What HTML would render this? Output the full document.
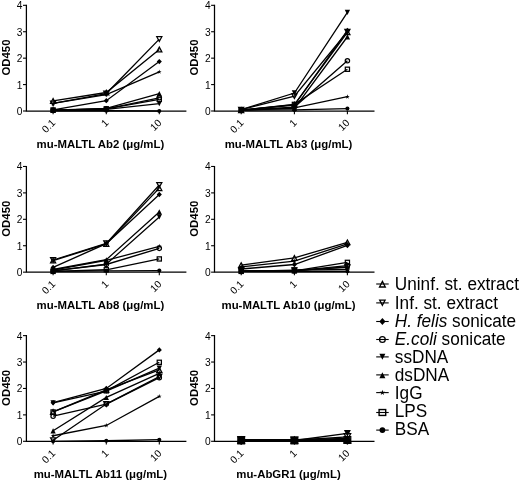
<!DOCTYPE html>
<html><head><meta charset="utf-8"><title>ELISA binding curves</title>
<style>html,body{margin:0;padding:0;background:#fff;}body{width:520px;height:483px;overflow:hidden;font-family:"Liberation Sans", sans-serif;}svg{display:block;}text{font-family:"Liberation Sans", sans-serif;fill:#000;}.tk{font-size:10.2px;}.ttl{font-size:11.4px;font-weight:bold;}.lg{font-size:17.2px;}</style></head><body>
<svg width="520" height="483" viewBox="0 0 520 483">
<defs><filter id="soft" x="0" y="0" width="520" height="483" filterUnits="userSpaceOnUse"><feGaussianBlur stdDeviation="0.3"/></filter></defs>
<rect width="520" height="483" fill="#fff"/>
<g filter="url(#soft)">
<g>
<path d="M26.4 4.82 V111 H186.4" fill="none" stroke="#000" stroke-width="1.25"/>
<path d="M23 111 H26.4" stroke="#000" stroke-width="1.1"/>
<text class="tk" x="22.5" y="115" text-anchor="end">0</text>
<path d="M23 84.58 H26.4" stroke="#000" stroke-width="1.1"/>
<text class="tk" x="22.5" y="88.58" text-anchor="end">1</text>
<path d="M23 58.16 H26.4" stroke="#000" stroke-width="1.1"/>
<text class="tk" x="22.5" y="62.16" text-anchor="end">2</text>
<path d="M23 31.74 H26.4" stroke="#000" stroke-width="1.1"/>
<text class="tk" x="22.5" y="35.74" text-anchor="end">3</text>
<path d="M23 5.32 H26.4" stroke="#000" stroke-width="1.1"/>
<text class="tk" x="22.5" y="9.32" text-anchor="end">4</text>
<path d="M53.1 111 V114.2" stroke="#000" stroke-width="1.1"/>
<text class="tk" x="56.1" y="123.6" text-anchor="end" transform="rotate(-45 56.1 123.6)">0.1</text>
<path d="M106.3 111 V114.2" stroke="#000" stroke-width="1.1"/>
<text class="tk" x="109.3" y="123.6" text-anchor="end" transform="rotate(-45 109.3 123.6)">1</text>
<path d="M159.3 111 V114.2" stroke="#000" stroke-width="1.1"/>
<text class="tk" x="162.3" y="123.6" text-anchor="end" transform="rotate(-45 162.3 123.6)">10</text>
<text class="ttl" x="10.2" y="57.56" text-anchor="middle" transform="rotate(-90 10.2 57.56)">OD450</text>
<text class="ttl" x="100.4" y="148" text-anchor="middle">mu-MALTL Ab2 (μg/mL)</text>
<polyline points="53.1,100.83 106.3,92.51 159.3,49.44" fill="none" stroke="#000" stroke-width="1.3"/>
<polygon points="53.1,98.53 55.65,103.25 50.55,103.25" fill="none" stroke="#000" stroke-width="1.25"/>
<polygon points="106.3,90.21 108.85,94.93 103.75,94.93" fill="none" stroke="#000" stroke-width="1.25"/>
<polygon points="159.3,47.15 161.85,51.86 156.75,51.86" fill="none" stroke="#000" stroke-width="1.25"/>
<polyline points="53.1,103.47 106.3,93.56 159.3,39.14" fill="none" stroke="#000" stroke-width="1.3"/>
<polygon points="53.1,105.77 55.65,101.05 50.55,101.05" fill="none" stroke="#000" stroke-width="1.25"/>
<polygon points="106.3,95.86 108.85,91.14 103.75,91.14" fill="none" stroke="#000" stroke-width="1.25"/>
<polygon points="159.3,41.43 161.85,36.72 156.75,36.72" fill="none" stroke="#000" stroke-width="1.25"/>
<polyline points="53.1,109.94 106.3,100.7 159.3,61.59" fill="none" stroke="#000" stroke-width="1.3"/>
<polygon points="53.1,107.27 55.65,109.94 53.1,112.62 50.55,109.94" fill="#000"/>
<polygon points="106.3,98.02 108.85,100.7 106.3,103.37 103.75,100.7" fill="#000"/>
<polygon points="159.3,58.92 161.85,61.59 159.3,64.27 156.75,61.59" fill="#000"/>
<polyline points="53.1,110.21 106.3,108.89 159.3,97.79" fill="none" stroke="#000" stroke-width="1.3"/>
<circle cx="53.1" cy="110.21" r="2.17" fill="none" stroke="#000" stroke-width="1.25"/>
<circle cx="106.3" cy="108.89" r="2.17" fill="none" stroke="#000" stroke-width="1.25"/>
<circle cx="159.3" cy="97.79" r="2.17" fill="none" stroke="#000" stroke-width="1.25"/>
<polyline points="53.1,110.21 106.3,109.41 159.3,103.6" fill="none" stroke="#000" stroke-width="1.3"/>
<polygon points="53.1,112.75 55.78,107.53 50.42,107.53" fill="#000"/>
<polygon points="106.3,111.96 108.98,106.74 103.62,106.74" fill="#000"/>
<polygon points="159.3,106.15 161.98,100.92 156.62,100.92" fill="#000"/>
<polyline points="53.1,110.21 106.3,108.36 159.3,93.56" fill="none" stroke="#000" stroke-width="1.3"/>
<polygon points="53.1,107.66 55.78,112.88 50.42,112.88" fill="#000"/>
<polygon points="106.3,105.81 108.98,111.04 103.62,111.04" fill="#000"/>
<polygon points="159.3,91.02 161.98,96.24 156.62,96.24" fill="#000"/>
<polyline points="53.1,103.47 106.3,94.62 159.3,71.9" fill="none" stroke="#000" stroke-width="1.3"/>
<polygon points="53.1,101.05 53.64,102.73 55.4,102.72 53.98,103.75 54.52,105.43 53.1,104.39 51.68,105.43 52.22,103.75 50.8,102.72 52.56,102.73" fill="#000"/>
<polygon points="106.3,92.2 106.84,93.87 108.6,93.87 107.18,94.9 107.72,96.58 106.3,95.54 104.88,96.58 105.42,94.9 104,93.87 105.76,93.87" fill="#000"/>
<polygon points="159.3,69.48 159.84,71.15 161.6,71.15 160.18,72.18 160.72,73.86 159.3,72.82 157.88,73.86 158.42,72.18 157,71.15 158.76,71.15" fill="#000"/>
<polyline points="53.1,110.21 106.3,108.89 159.3,99.38" fill="none" stroke="#000" stroke-width="1.3"/>
<rect x="51.01" y="108.12" width="4.18" height="4.18" fill="none" stroke="#000" stroke-width="1.25"/>
<rect x="104.21" y="106.8" width="4.18" height="4.18" fill="none" stroke="#000" stroke-width="1.25"/>
<rect x="157.21" y="97.28" width="4.18" height="4.18" fill="none" stroke="#000" stroke-width="1.25"/>
<polyline points="53.1,110.74 106.3,110.74 159.3,111" fill="none" stroke="#000" stroke-width="1.3"/>
<circle cx="53.1" cy="110.74" r="2.04" fill="#000"/>
<circle cx="106.3" cy="110.74" r="2.04" fill="#000"/>
<circle cx="159.3" cy="111" r="2.04" fill="#000"/>
</g>
<g>
<path d="M214.5 4.82 V111 H374.5" fill="none" stroke="#000" stroke-width="1.25"/>
<path d="M211.1 111 H214.5" stroke="#000" stroke-width="1.1"/>
<text class="tk" x="210.6" y="115" text-anchor="end">0</text>
<path d="M211.1 84.58 H214.5" stroke="#000" stroke-width="1.1"/>
<text class="tk" x="210.6" y="88.58" text-anchor="end">1</text>
<path d="M211.1 58.16 H214.5" stroke="#000" stroke-width="1.1"/>
<text class="tk" x="210.6" y="62.16" text-anchor="end">2</text>
<path d="M211.1 31.74 H214.5" stroke="#000" stroke-width="1.1"/>
<text class="tk" x="210.6" y="35.74" text-anchor="end">3</text>
<path d="M211.1 5.32 H214.5" stroke="#000" stroke-width="1.1"/>
<text class="tk" x="210.6" y="9.32" text-anchor="end">4</text>
<path d="M241.2 111 V114.2" stroke="#000" stroke-width="1.1"/>
<text class="tk" x="244.2" y="123.6" text-anchor="end" transform="rotate(-45 244.2 123.6)">0.1</text>
<path d="M294.4 111 V114.2" stroke="#000" stroke-width="1.1"/>
<text class="tk" x="297.4" y="123.6" text-anchor="end" transform="rotate(-45 297.4 123.6)">1</text>
<path d="M347.4 111 V114.2" stroke="#000" stroke-width="1.1"/>
<text class="tk" x="350.4" y="123.6" text-anchor="end" transform="rotate(-45 350.4 123.6)">10</text>
<text class="ttl" x="198.3" y="57.56" text-anchor="middle" transform="rotate(-90 198.3 57.56)">OD450</text>
<text class="ttl" x="288.5" y="148" text-anchor="middle">mu-MALTL Ab3 (μg/mL)</text>
<polyline points="241.2,110.21 294.4,104.66 347.4,32.27" fill="none" stroke="#000" stroke-width="1.3"/>
<polygon points="241.2,107.91 243.75,112.63 238.65,112.63" fill="none" stroke="#000" stroke-width="1.25"/>
<polygon points="294.4,102.36 296.95,107.08 291.85,107.08" fill="none" stroke="#000" stroke-width="1.25"/>
<polygon points="347.4,29.97 349.95,34.69 344.85,34.69" fill="none" stroke="#000" stroke-width="1.25"/>
<polyline points="241.2,109.68 294.4,96.2 347.4,31.74" fill="none" stroke="#000" stroke-width="1.3"/>
<polygon points="241.2,111.97 243.75,107.26 238.65,107.26" fill="none" stroke="#000" stroke-width="1.25"/>
<polygon points="294.4,98.5 296.95,93.78 291.85,93.78" fill="none" stroke="#000" stroke-width="1.25"/>
<polygon points="347.4,34.03 349.95,29.32 344.85,29.32" fill="none" stroke="#000" stroke-width="1.25"/>
<polyline points="241.2,110.21 294.4,105.19 347.4,30.42" fill="none" stroke="#000" stroke-width="1.3"/>
<polygon points="241.2,107.53 243.75,110.21 241.2,112.88 238.65,110.21" fill="#000"/>
<polygon points="294.4,102.51 296.95,105.19 294.4,107.87 291.85,105.19" fill="#000"/>
<polygon points="347.4,27.74 349.95,30.42 347.4,33.1 344.85,30.42" fill="#000"/>
<polyline points="241.2,110.21 294.4,107.04 347.4,60.8" fill="none" stroke="#000" stroke-width="1.3"/>
<circle cx="241.2" cy="110.21" r="2.17" fill="none" stroke="#000" stroke-width="1.25"/>
<circle cx="294.4" cy="107.04" r="2.17" fill="none" stroke="#000" stroke-width="1.25"/>
<circle cx="347.4" cy="60.8" r="2.17" fill="none" stroke="#000" stroke-width="1.25"/>
<polyline points="241.2,109.68 294.4,93.03 347.4,12.45" fill="none" stroke="#000" stroke-width="1.3"/>
<polygon points="241.2,112.22 243.88,107 238.52,107" fill="#000"/>
<polygon points="294.4,95.58 297.08,90.36 291.72,90.36" fill="#000"/>
<polygon points="347.4,15 350.08,9.78 344.72,9.78" fill="#000"/>
<polyline points="241.2,110.21 294.4,108.36 347.4,36.76" fill="none" stroke="#000" stroke-width="1.3"/>
<polygon points="241.2,107.66 243.88,112.88 238.52,112.88" fill="#000"/>
<polygon points="294.4,105.81 297.08,111.04 291.72,111.04" fill="#000"/>
<polygon points="347.4,34.22 350.08,39.44 344.72,39.44" fill="#000"/>
<polyline points="241.2,110.21 294.4,107.83 347.4,96.73" fill="none" stroke="#000" stroke-width="1.3"/>
<polygon points="241.2,107.78 241.74,109.46 243.5,109.46 242.08,110.49 242.62,112.17 241.2,111.13 239.78,112.17 240.32,110.49 238.9,109.46 240.66,109.46" fill="#000"/>
<polygon points="294.4,105.41 294.94,107.08 296.7,107.08 295.28,108.11 295.82,109.79 294.4,108.75 292.98,109.79 293.52,108.11 292.1,107.08 293.86,107.08" fill="#000"/>
<polygon points="347.4,94.31 347.94,95.99 349.7,95.98 348.28,97.02 348.82,98.69 347.4,97.65 345.98,98.69 346.52,97.02 345.1,95.98 346.86,95.99" fill="#000"/>
<polyline points="241.2,110.21 294.4,104.39 347.4,69.26" fill="none" stroke="#000" stroke-width="1.3"/>
<rect x="239.11" y="108.12" width="4.18" height="4.18" fill="none" stroke="#000" stroke-width="1.25"/>
<rect x="292.31" y="102.3" width="4.18" height="4.18" fill="none" stroke="#000" stroke-width="1.25"/>
<rect x="345.31" y="67.17" width="4.18" height="4.18" fill="none" stroke="#000" stroke-width="1.25"/>
<polyline points="241.2,110.21 294.4,109.94 347.4,108.62" fill="none" stroke="#000" stroke-width="1.3"/>
<circle cx="241.2" cy="110.21" r="2.04" fill="#000"/>
<circle cx="294.4" cy="109.94" r="2.04" fill="#000"/>
<circle cx="347.4" cy="108.62" r="2.04" fill="#000"/>
</g>
<g>
<path d="M26.4 165.97 V272.15 H186.4" fill="none" stroke="#000" stroke-width="1.25"/>
<path d="M23 272.15 H26.4" stroke="#000" stroke-width="1.1"/>
<text class="tk" x="22.5" y="276.15" text-anchor="end">0</text>
<path d="M23 245.73 H26.4" stroke="#000" stroke-width="1.1"/>
<text class="tk" x="22.5" y="249.73" text-anchor="end">1</text>
<path d="M23 219.31 H26.4" stroke="#000" stroke-width="1.1"/>
<text class="tk" x="22.5" y="223.31" text-anchor="end">2</text>
<path d="M23 192.89 H26.4" stroke="#000" stroke-width="1.1"/>
<text class="tk" x="22.5" y="196.89" text-anchor="end">3</text>
<path d="M23 166.47 H26.4" stroke="#000" stroke-width="1.1"/>
<text class="tk" x="22.5" y="170.47" text-anchor="end">4</text>
<path d="M53.1 272.15 V275.35" stroke="#000" stroke-width="1.1"/>
<text class="tk" x="56.1" y="284.75" text-anchor="end" transform="rotate(-45 56.1 284.75)">0.1</text>
<path d="M106.3 272.15 V275.35" stroke="#000" stroke-width="1.1"/>
<text class="tk" x="109.3" y="284.75" text-anchor="end" transform="rotate(-45 109.3 284.75)">1</text>
<path d="M159.3 272.15 V275.35" stroke="#000" stroke-width="1.1"/>
<text class="tk" x="162.3" y="284.75" text-anchor="end" transform="rotate(-45 162.3 284.75)">10</text>
<text class="ttl" x="10.2" y="218.71" text-anchor="middle" transform="rotate(-90 10.2 218.71)">OD450</text>
<text class="ttl" x="100.4" y="309.15" text-anchor="middle">mu-MALTL Ab8 (μg/mL)</text>
<polyline points="53.1,260.53 106.3,243.88 159.3,188.13" fill="none" stroke="#000" stroke-width="1.3"/>
<polygon points="53.1,258.23 55.65,262.95 50.55,262.95" fill="none" stroke="#000" stroke-width="1.25"/>
<polygon points="106.3,241.59 108.85,246.3 103.75,246.3" fill="none" stroke="#000" stroke-width="1.25"/>
<polygon points="159.3,185.84 161.85,190.56 156.75,190.56" fill="none" stroke="#000" stroke-width="1.25"/>
<polyline points="53.1,260 106.3,243.35 159.3,184.96" fill="none" stroke="#000" stroke-width="1.3"/>
<polygon points="53.1,262.29 55.65,257.57 50.55,257.57" fill="none" stroke="#000" stroke-width="1.25"/>
<polygon points="106.3,245.65 108.85,240.93 103.75,240.93" fill="none" stroke="#000" stroke-width="1.25"/>
<polygon points="159.3,187.26 161.85,182.54 156.75,182.54" fill="none" stroke="#000" stroke-width="1.25"/>
<polyline points="53.1,267.39 106.3,243.62 159.3,194.48" fill="none" stroke="#000" stroke-width="1.3"/>
<polygon points="53.1,264.72 55.65,267.39 53.1,270.07 50.55,267.39" fill="#000"/>
<polygon points="106.3,240.94 108.85,243.62 106.3,246.29 103.75,243.62" fill="#000"/>
<polygon points="159.3,191.8 161.85,194.48 159.3,197.15 156.75,194.48" fill="#000"/>
<polyline points="53.1,270.83 106.3,264.49 159.3,248.37" fill="none" stroke="#000" stroke-width="1.3"/>
<circle cx="53.1" cy="270.83" r="2.17" fill="none" stroke="#000" stroke-width="1.25"/>
<circle cx="106.3" cy="264.49" r="2.17" fill="none" stroke="#000" stroke-width="1.25"/>
<circle cx="159.3" cy="248.37" r="2.17" fill="none" stroke="#000" stroke-width="1.25"/>
<polyline points="53.1,270.83 106.3,264.22 159.3,216.93" fill="none" stroke="#000" stroke-width="1.3"/>
<polygon points="53.1,273.37 55.78,268.15 50.42,268.15" fill="#000"/>
<polygon points="106.3,266.77 108.98,261.55 103.62,261.55" fill="#000"/>
<polygon points="159.3,219.48 161.98,214.25 156.62,214.25" fill="#000"/>
<polyline points="53.1,269.51 106.3,259.73 159.3,211.91" fill="none" stroke="#000" stroke-width="1.3"/>
<polygon points="53.1,266.96 55.78,272.19 50.42,272.19" fill="#000"/>
<polygon points="106.3,257.19 108.98,262.41 103.62,262.41" fill="#000"/>
<polygon points="159.3,209.37 161.98,214.59 156.62,214.59" fill="#000"/>
<polyline points="53.1,270.04 106.3,260.26 159.3,246.26" fill="none" stroke="#000" stroke-width="1.3"/>
<polygon points="53.1,267.61 53.64,269.29 55.4,269.29 53.98,270.32 54.52,272 53.1,270.96 51.68,272 52.22,270.32 50.8,269.29 52.56,269.29" fill="#000"/>
<polygon points="106.3,257.84 106.84,259.52 108.6,259.51 107.18,260.55 107.72,262.22 106.3,261.18 104.88,262.22 105.42,260.55 104,259.51 105.76,259.52" fill="#000"/>
<polygon points="159.3,243.84 159.84,245.51 161.6,245.51 160.18,246.54 160.72,248.22 159.3,247.18 157.88,248.22 158.42,246.54 157,245.51 158.76,245.51" fill="#000"/>
<polyline points="53.1,271.36 106.3,269.77 159.3,258.94" fill="none" stroke="#000" stroke-width="1.3"/>
<rect x="51.01" y="269.27" width="4.18" height="4.18" fill="none" stroke="#000" stroke-width="1.25"/>
<rect x="104.21" y="267.68" width="4.18" height="4.18" fill="none" stroke="#000" stroke-width="1.25"/>
<rect x="157.21" y="256.85" width="4.18" height="4.18" fill="none" stroke="#000" stroke-width="1.25"/>
<polyline points="53.1,271.36 106.3,270.83 159.3,270.56" fill="none" stroke="#000" stroke-width="1.3"/>
<circle cx="53.1" cy="271.36" r="2.04" fill="#000"/>
<circle cx="106.3" cy="270.83" r="2.04" fill="#000"/>
<circle cx="159.3" cy="270.56" r="2.04" fill="#000"/>
</g>
<g>
<path d="M214.5 165.97 V272.15 H374.5" fill="none" stroke="#000" stroke-width="1.25"/>
<path d="M211.1 272.15 H214.5" stroke="#000" stroke-width="1.1"/>
<text class="tk" x="210.6" y="276.15" text-anchor="end">0</text>
<path d="M211.1 245.73 H214.5" stroke="#000" stroke-width="1.1"/>
<text class="tk" x="210.6" y="249.73" text-anchor="end">1</text>
<path d="M211.1 219.31 H214.5" stroke="#000" stroke-width="1.1"/>
<text class="tk" x="210.6" y="223.31" text-anchor="end">2</text>
<path d="M211.1 192.89 H214.5" stroke="#000" stroke-width="1.1"/>
<text class="tk" x="210.6" y="196.89" text-anchor="end">3</text>
<path d="M211.1 166.47 H214.5" stroke="#000" stroke-width="1.1"/>
<text class="tk" x="210.6" y="170.47" text-anchor="end">4</text>
<path d="M241.2 272.15 V275.35" stroke="#000" stroke-width="1.1"/>
<text class="tk" x="244.2" y="284.75" text-anchor="end" transform="rotate(-45 244.2 284.75)">0.1</text>
<path d="M294.4 272.15 V275.35" stroke="#000" stroke-width="1.1"/>
<text class="tk" x="297.4" y="284.75" text-anchor="end" transform="rotate(-45 297.4 284.75)">1</text>
<path d="M347.4 272.15 V275.35" stroke="#000" stroke-width="1.1"/>
<text class="tk" x="350.4" y="284.75" text-anchor="end" transform="rotate(-45 350.4 284.75)">10</text>
<text class="ttl" x="198.3" y="218.71" text-anchor="middle" transform="rotate(-90 198.3 218.71)">OD450</text>
<text class="ttl" x="288.5" y="309.15" text-anchor="middle">mu-MALTL Ab10 (μg/mL)</text>
<polyline points="241.2,265.02 294.4,257.88 347.4,242.3" fill="none" stroke="#000" stroke-width="1.3"/>
<polygon points="241.2,262.72 243.75,267.44 238.65,267.44" fill="none" stroke="#000" stroke-width="1.25"/>
<polygon points="294.4,255.59 296.95,260.31 291.85,260.31" fill="none" stroke="#000" stroke-width="1.25"/>
<polygon points="347.4,240 349.95,244.72 344.85,244.72" fill="none" stroke="#000" stroke-width="1.25"/>
<polyline points="241.2,270.83 294.4,270.3 347.4,267.39" fill="none" stroke="#000" stroke-width="1.3"/>
<polygon points="241.2,273.12 243.75,268.41 238.65,268.41" fill="none" stroke="#000" stroke-width="1.25"/>
<polygon points="294.4,272.6 296.95,267.88 291.85,267.88" fill="none" stroke="#000" stroke-width="1.25"/>
<polygon points="347.4,269.69 349.95,264.97 344.85,264.97" fill="none" stroke="#000" stroke-width="1.25"/>
<polyline points="241.2,268.98 294.4,264.49 347.4,245.47" fill="none" stroke="#000" stroke-width="1.3"/>
<polygon points="241.2,266.3 243.75,268.98 241.2,271.66 238.65,268.98" fill="#000"/>
<polygon points="294.4,261.81 296.95,264.49 294.4,267.17 291.85,264.49" fill="#000"/>
<polygon points="347.4,242.79 349.95,245.47 347.4,248.14 344.85,245.47" fill="#000"/>
<polyline points="241.2,271.36 294.4,270.83 347.4,265.54" fill="none" stroke="#000" stroke-width="1.3"/>
<circle cx="241.2" cy="271.36" r="2.17" fill="none" stroke="#000" stroke-width="1.25"/>
<circle cx="294.4" cy="270.83" r="2.17" fill="none" stroke="#000" stroke-width="1.25"/>
<circle cx="347.4" cy="265.54" r="2.17" fill="none" stroke="#000" stroke-width="1.25"/>
<polyline points="241.2,271.36 294.4,270.04 347.4,269.51" fill="none" stroke="#000" stroke-width="1.3"/>
<polygon points="241.2,273.9 243.88,268.68 238.52,268.68" fill="#000"/>
<polygon points="294.4,272.58 297.08,267.36 291.72,267.36" fill="#000"/>
<polygon points="347.4,272.05 350.08,266.83 344.72,266.83" fill="#000"/>
<polyline points="241.2,270.83 294.4,270.56 347.4,266.87" fill="none" stroke="#000" stroke-width="1.3"/>
<polygon points="241.2,268.29 243.88,273.51 238.52,273.51" fill="#000"/>
<polygon points="294.4,268.02 297.08,273.24 291.72,273.24" fill="#000"/>
<polygon points="347.4,264.32 350.08,269.54 344.72,269.54" fill="#000"/>
<polyline points="241.2,266.87 294.4,261.05 347.4,243.88" fill="none" stroke="#000" stroke-width="1.3"/>
<polygon points="241.2,264.44 241.74,266.12 243.5,266.12 242.08,267.15 242.62,268.83 241.2,267.79 239.78,268.83 240.32,267.15 238.9,266.12 240.66,266.12" fill="#000"/>
<polygon points="294.4,258.63 294.94,260.31 296.7,260.31 295.28,261.34 295.82,263.01 294.4,261.97 292.98,263.01 293.52,261.34 292.1,260.31 293.86,260.31" fill="#000"/>
<polygon points="347.4,241.46 347.94,243.14 349.7,243.13 348.28,244.17 348.82,245.84 347.4,244.8 345.98,245.84 346.52,244.17 345.1,243.13 346.86,243.14" fill="#000"/>
<polyline points="241.2,271.36 294.4,270.83 347.4,262.37" fill="none" stroke="#000" stroke-width="1.3"/>
<rect x="239.11" y="269.27" width="4.18" height="4.18" fill="none" stroke="#000" stroke-width="1.25"/>
<rect x="292.31" y="268.74" width="4.18" height="4.18" fill="none" stroke="#000" stroke-width="1.25"/>
<rect x="345.31" y="260.28" width="4.18" height="4.18" fill="none" stroke="#000" stroke-width="1.25"/>
<polyline points="241.2,271.36 294.4,271.36 347.4,271.36" fill="none" stroke="#000" stroke-width="1.3"/>
<circle cx="241.2" cy="271.36" r="2.04" fill="#000"/>
<circle cx="294.4" cy="271.36" r="2.04" fill="#000"/>
<circle cx="347.4" cy="271.36" r="2.04" fill="#000"/>
</g>
<g>
<path d="M26.4 335.12 V441.3 H186.4" fill="none" stroke="#000" stroke-width="1.25"/>
<path d="M23 441.3 H26.4" stroke="#000" stroke-width="1.1"/>
<text class="tk" x="22.5" y="445.3" text-anchor="end">0</text>
<path d="M23 414.88 H26.4" stroke="#000" stroke-width="1.1"/>
<text class="tk" x="22.5" y="418.88" text-anchor="end">1</text>
<path d="M23 388.46 H26.4" stroke="#000" stroke-width="1.1"/>
<text class="tk" x="22.5" y="392.46" text-anchor="end">2</text>
<path d="M23 362.04 H26.4" stroke="#000" stroke-width="1.1"/>
<text class="tk" x="22.5" y="366.04" text-anchor="end">3</text>
<path d="M23 335.62 H26.4" stroke="#000" stroke-width="1.1"/>
<text class="tk" x="22.5" y="339.62" text-anchor="end">4</text>
<path d="M53.1 441.3 V444.5" stroke="#000" stroke-width="1.1"/>
<text class="tk" x="56.1" y="453.9" text-anchor="end" transform="rotate(-45 56.1 453.9)">0.1</text>
<path d="M106.3 441.3 V444.5" stroke="#000" stroke-width="1.1"/>
<text class="tk" x="109.3" y="453.9" text-anchor="end" transform="rotate(-45 109.3 453.9)">1</text>
<path d="M159.3 441.3 V444.5" stroke="#000" stroke-width="1.1"/>
<text class="tk" x="162.3" y="453.9" text-anchor="end" transform="rotate(-45 162.3 453.9)">10</text>
<text class="ttl" x="10.2" y="387.86" text-anchor="middle" transform="rotate(-90 10.2 387.86)">OD450</text>
<text class="ttl" x="100.4" y="478.3" text-anchor="middle">mu-MALTL Ab11 (μg/mL)</text>
<polyline points="53.1,411.97 106.3,389.78 159.3,369.97" fill="none" stroke="#000" stroke-width="1.3"/>
<polygon points="53.1,409.68 55.65,414.4 50.55,414.4" fill="none" stroke="#000" stroke-width="1.25"/>
<polygon points="106.3,387.49 108.85,392.2 103.75,392.2" fill="none" stroke="#000" stroke-width="1.25"/>
<polygon points="159.3,367.67 161.85,372.39 156.75,372.39" fill="none" stroke="#000" stroke-width="1.25"/>
<polyline points="53.1,440.24 106.3,404.05 159.3,376.57" fill="none" stroke="#000" stroke-width="1.3"/>
<polygon points="53.1,442.54 55.65,437.82 50.55,437.82" fill="none" stroke="#000" stroke-width="1.25"/>
<polygon points="106.3,406.34 108.85,401.63 103.75,401.63" fill="none" stroke="#000" stroke-width="1.25"/>
<polygon points="159.3,378.87 161.85,374.15 156.75,374.15" fill="none" stroke="#000" stroke-width="1.25"/>
<polyline points="53.1,402.73 106.3,388.46 159.3,349.89" fill="none" stroke="#000" stroke-width="1.3"/>
<polygon points="53.1,400.05 55.65,402.73 53.1,405.4 50.55,402.73" fill="#000"/>
<polygon points="106.3,385.78 108.85,388.46 106.3,391.14 103.75,388.46" fill="#000"/>
<polygon points="159.3,347.21 161.85,349.89 159.3,352.56 156.75,349.89" fill="#000"/>
<polyline points="53.1,416.2 106.3,404.05 159.3,377.63" fill="none" stroke="#000" stroke-width="1.3"/>
<circle cx="53.1" cy="416.2" r="2.17" fill="none" stroke="#000" stroke-width="1.25"/>
<circle cx="106.3" cy="404.05" r="2.17" fill="none" stroke="#000" stroke-width="1.25"/>
<circle cx="159.3" cy="377.63" r="2.17" fill="none" stroke="#000" stroke-width="1.25"/>
<polyline points="53.1,402.99 106.3,391.1 159.3,368.12" fill="none" stroke="#000" stroke-width="1.3"/>
<polygon points="53.1,405.53 55.78,400.31 50.42,400.31" fill="#000"/>
<polygon points="106.3,393.65 108.98,388.42 103.62,388.42" fill="#000"/>
<polygon points="159.3,370.66 161.98,365.44 156.62,365.44" fill="#000"/>
<polyline points="53.1,430.73 106.3,397.44 159.3,373.4" fill="none" stroke="#000" stroke-width="1.3"/>
<polygon points="53.1,428.19 55.78,433.41 50.42,433.41" fill="#000"/>
<polygon points="106.3,394.9 108.98,400.12 103.62,400.12" fill="#000"/>
<polygon points="159.3,370.86 161.98,376.08 156.62,376.08" fill="#000"/>
<polyline points="53.1,435.75 106.3,425.45 159.3,396.39" fill="none" stroke="#000" stroke-width="1.3"/>
<polygon points="53.1,433.33 53.64,435.01 55.4,435 53.98,436.04 54.52,437.71 53.1,436.67 51.68,437.71 52.22,436.04 50.8,435 52.56,435.01" fill="#000"/>
<polygon points="106.3,423.03 106.84,424.7 108.6,424.7 107.18,425.73 107.72,427.41 106.3,426.37 104.88,427.41 105.42,425.73 104,424.7 105.76,424.7" fill="#000"/>
<polygon points="159.3,393.96 159.84,395.64 161.6,395.64 160.18,396.67 160.72,398.35 159.3,397.31 157.88,398.35 158.42,396.67 157,395.64 158.76,395.64" fill="#000"/>
<polyline points="53.1,411.97 106.3,390.84 159.3,362.3" fill="none" stroke="#000" stroke-width="1.3"/>
<rect x="51.01" y="409.88" width="4.18" height="4.18" fill="none" stroke="#000" stroke-width="1.25"/>
<rect x="104.21" y="388.75" width="4.18" height="4.18" fill="none" stroke="#000" stroke-width="1.25"/>
<rect x="157.21" y="360.21" width="4.18" height="4.18" fill="none" stroke="#000" stroke-width="1.25"/>
<polyline points="53.1,441.3 106.3,440.77 159.3,439.71" fill="none" stroke="#000" stroke-width="1.3"/>
<circle cx="53.1" cy="441.3" r="2.04" fill="#000"/>
<circle cx="106.3" cy="440.77" r="2.04" fill="#000"/>
<circle cx="159.3" cy="439.71" r="2.04" fill="#000"/>
</g>
<g>
<path d="M214.5 335.12 V441.3 H374.5" fill="none" stroke="#000" stroke-width="1.25"/>
<path d="M211.1 441.3 H214.5" stroke="#000" stroke-width="1.1"/>
<text class="tk" x="210.6" y="445.3" text-anchor="end">0</text>
<path d="M211.1 414.88 H214.5" stroke="#000" stroke-width="1.1"/>
<text class="tk" x="210.6" y="418.88" text-anchor="end">1</text>
<path d="M211.1 388.46 H214.5" stroke="#000" stroke-width="1.1"/>
<text class="tk" x="210.6" y="392.46" text-anchor="end">2</text>
<path d="M211.1 362.04 H214.5" stroke="#000" stroke-width="1.1"/>
<text class="tk" x="210.6" y="366.04" text-anchor="end">3</text>
<path d="M211.1 335.62 H214.5" stroke="#000" stroke-width="1.1"/>
<text class="tk" x="210.6" y="339.62" text-anchor="end">4</text>
<path d="M241.2 441.3 V444.5" stroke="#000" stroke-width="1.1"/>
<text class="tk" x="244.2" y="453.9" text-anchor="end" transform="rotate(-45 244.2 453.9)">0.1</text>
<path d="M294.4 441.3 V444.5" stroke="#000" stroke-width="1.1"/>
<text class="tk" x="297.4" y="453.9" text-anchor="end" transform="rotate(-45 297.4 453.9)">1</text>
<path d="M347.4 441.3 V444.5" stroke="#000" stroke-width="1.1"/>
<text class="tk" x="350.4" y="453.9" text-anchor="end" transform="rotate(-45 350.4 453.9)">10</text>
<text class="ttl" x="198.3" y="387.86" text-anchor="middle" transform="rotate(-90 198.3 387.86)">OD450</text>
<text class="ttl" x="288.5" y="478.3" text-anchor="middle">mu-AbGR1 (μg/mL)</text>
<polyline points="241.2,439.98 294.4,439.98 347.4,439.71" fill="none" stroke="#000" stroke-width="1.3"/>
<polygon points="241.2,437 244.51,443.13 237.88,443.13" fill="none" stroke="#000" stroke-width="1.25"/>
<polygon points="294.4,437 297.71,443.13 291.08,443.13" fill="none" stroke="#000" stroke-width="1.25"/>
<polygon points="347.4,436.73 350.71,442.86 344.08,442.86" fill="none" stroke="#000" stroke-width="1.25"/>
<polyline points="241.2,439.71 294.4,440.24 347.4,436.81" fill="none" stroke="#000" stroke-width="1.3"/>
<polygon points="241.2,442.7 244.51,436.57 237.88,436.57" fill="none" stroke="#000" stroke-width="1.25"/>
<polygon points="294.4,443.23 297.71,437.09 291.08,437.09" fill="none" stroke="#000" stroke-width="1.25"/>
<polygon points="347.4,439.79 350.71,433.66 344.08,433.66" fill="none" stroke="#000" stroke-width="1.25"/>
<polyline points="241.2,441.3 294.4,441.04 347.4,440.51" fill="none" stroke="#000" stroke-width="1.3"/>
<polygon points="241.2,437.82 244.51,441.3 241.2,444.78 237.88,441.3" fill="#000"/>
<polygon points="294.4,437.56 297.71,441.04 294.4,444.52 291.08,441.04" fill="#000"/>
<polygon points="347.4,437.03 350.71,440.51 347.4,443.99 344.08,440.51" fill="#000"/>
<polyline points="241.2,440.77 294.4,440.24 347.4,439.98" fill="none" stroke="#000" stroke-width="1.3"/>
<circle cx="241.2" cy="440.77" r="2.82" fill="none" stroke="#000" stroke-width="1.25"/>
<circle cx="294.4" cy="440.24" r="2.82" fill="none" stroke="#000" stroke-width="1.25"/>
<circle cx="347.4" cy="439.98" r="2.82" fill="none" stroke="#000" stroke-width="1.25"/>
<polyline points="241.2,439.98 294.4,440.51 347.4,433.37" fill="none" stroke="#000" stroke-width="1.3"/>
<polygon points="241.2,443.29 244.68,436.5 237.72,436.5" fill="#000"/>
<polygon points="294.4,443.81 297.88,437.03 290.92,437.03" fill="#000"/>
<polygon points="347.4,436.68 350.88,429.89 343.92,429.89" fill="#000"/>
<polyline points="241.2,440.24 294.4,439.71 347.4,438.39" fill="none" stroke="#000" stroke-width="1.3"/>
<polygon points="241.2,436.94 244.68,443.72 237.72,443.72" fill="#000"/>
<polygon points="294.4,436.41 297.88,443.2 290.92,443.2" fill="#000"/>
<polygon points="347.4,435.09 350.88,441.87 343.92,441.87" fill="#000"/>
<polyline points="241.2,440.77 294.4,440.77 347.4,440.77" fill="none" stroke="#000" stroke-width="1.3"/>
<polygon points="241.2,437.62 241.9,439.8 244.2,439.8 242.34,441.14 243.05,443.32 241.2,441.97 239.35,443.32 240.06,441.14 238.2,439.8 240.5,439.8" fill="#000"/>
<polygon points="294.4,437.62 295.1,439.8 297.4,439.8 295.54,441.14 296.25,443.32 294.4,441.97 292.55,443.32 293.26,441.14 291.4,439.8 293.7,439.8" fill="#000"/>
<polygon points="347.4,437.62 348.1,439.8 350.4,439.8 348.54,441.14 349.25,443.32 347.4,441.97 345.55,443.32 346.26,441.14 344.4,439.8 346.7,439.8" fill="#000"/>
<polyline points="241.2,440.51 294.4,440.51 347.4,439.98" fill="none" stroke="#000" stroke-width="1.3"/>
<rect x="237.85" y="437.16" width="6.69" height="6.69" fill="none" stroke="#000" stroke-width="1.25"/>
<rect x="291.05" y="437.16" width="6.69" height="6.69" fill="none" stroke="#000" stroke-width="1.25"/>
<rect x="344.05" y="436.63" width="6.69" height="6.69" fill="none" stroke="#000" stroke-width="1.25"/>
<polyline points="241.2,441.04 294.4,440.77 347.4,441.04" fill="none" stroke="#000" stroke-width="1.3"/>
<circle cx="241.2" cy="441.04" r="3.26" fill="#000"/>
<circle cx="294.4" cy="440.77" r="3.26" fill="#000"/>
<circle cx="347.4" cy="441.04" r="3.26" fill="#000"/>
</g>
<g>
<path d="M376.2 284 H388.7" stroke="#000" stroke-width="1.1"/>
<polygon points="382.4,281.4 385.3,287 379.5,287" fill="none" stroke="#000" stroke-width="1.3"/>
<text class="lg" transform="translate(394.8 290.3) scale(1 1.05)">Uninf. st. extract</text>
<path d="M376.2 302.9 H388.7" stroke="#000" stroke-width="1.1"/>
<polygon points="382.4,305.3 385.1,300.15 379.7,300.15" fill="none" stroke="#000" stroke-width="1.3"/>
<text class="lg" transform="translate(394.8 309) scale(1 1.05)">Inf. st. extract</text>
<path d="M376.2 321.5 H388.7" stroke="#000" stroke-width="1.1"/>
<polygon points="382.4,318 385.5,321.5 382.4,325 379.3,321.5" fill="#000"/>
<text class="lg" transform="translate(394.8 327.1) scale(1 1.05)"><tspan font-style="italic">H. felis</tspan> sonicate</text>
<path d="M376.2 339.5 H388.7" stroke="#000" stroke-width="1.1"/>
<circle cx="382.4" cy="339.5" r="2.85" fill="none" stroke="#000" stroke-width="1.3"/>
<text class="lg" transform="translate(394.8 345.1) scale(1 1.05)"><tspan font-style="italic">E.coli</tspan> sonicate</text>
<path d="M376.2 356.9 H388.7" stroke="#000" stroke-width="1.1"/>
<polygon points="382.4,359.7 385.4,353.7 379.4,353.7" fill="#000"/>
<text class="lg" transform="translate(394.8 362.6) scale(1 1.05)">ssDNA</text>
<path d="M376.2 374.9 H388.7" stroke="#000" stroke-width="1.1"/>
<polygon points="382.4,372.2 385.4,378.2 379.4,378.2" fill="#000"/>
<text class="lg" transform="translate(394.8 380.6) scale(1 1.05)">dsDNA</text>
<path d="M376.2 392.6 H388.7" stroke="#000" stroke-width="1.1"/>
<polygon points="382.4,389.7 383.05,391.71 385.16,391.7 383.45,392.94 384.1,394.95 382.4,393.7 380.7,394.95 381.35,392.94 379.64,391.7 381.75,391.71" fill="#000"/>
<text class="lg" transform="translate(394.8 398.6) scale(1 1.05)">IgG</text>
<path d="M376.2 412.5 H388.7" stroke="#000" stroke-width="1.1"/>
<rect x="379.1" y="409.55" width="6.6" height="5.9" fill="none" stroke="#000" stroke-width="1.4"/>
<text class="lg" transform="translate(394.8 417) scale(1 1.05)">LPS</text>
<path d="M376.2 430.1 H388.7" stroke="#000" stroke-width="1.1"/>
<circle cx="382.4" cy="430.1" r="2.9" fill="#000"/>
<text class="lg" transform="translate(394.8 435.2) scale(1 1.05)">BSA</text>
</g>
</g>
</svg></body></html>
